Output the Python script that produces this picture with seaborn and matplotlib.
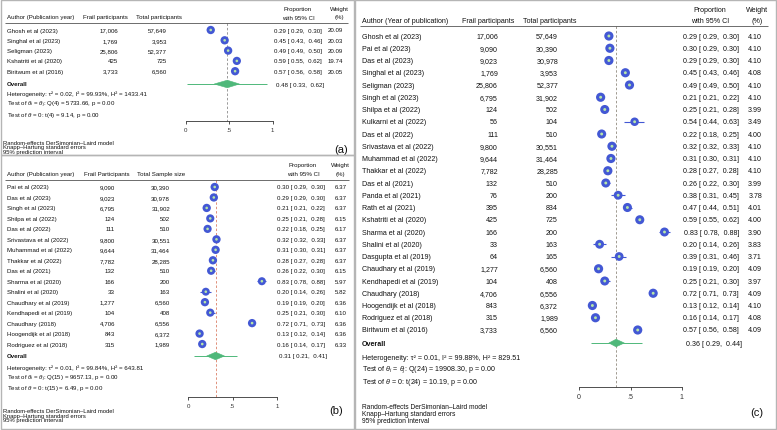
"""
Forest plots of frailty prevalence, three panels (a), (b), (c)
"""

import matplotlib
matplotlib.use("Agg")
import matplotlib.pyplot as plt
from matplotlib.patches import Polygon, Rectangle
import seaborn as sns

# Figure size in pixels
W, H = 777, 431

# ---- Panel (a) data
a_names = ['Ghosh et al (2023)', 'Singhal et al (2023)', 'Seligman (2023)',
           'Kshatriti et al (2020)', 'Biritwum et al (2016)']
a_frail = [17006, 1769, 25806, 425, 3733]
a_total = [57649, 3953, 52377, 725, 6560]
a_prop = [0.29, 0.45, 0.49, 0.59, 0.57]
a_lo = [0.29, 0.43, 0.49, 0.55, 0.56]
a_hi = [0.30, 0.46, 0.50, 0.62, 0.58]
a_weight = [20.09, 20.03, 20.09, 19.74, 20.05]
a_overall = [0.48, 0.33, 0.62]
a_pi = [0.02, 0.94]
a_stats = ['Heterogeneity: τ² = 0.02, I² = 99.93%, H² = 1433.41',
           r'Test of $\theta_i$ = $\theta_j$: Q(4) = 5733.66, p = 0.00',
           r'Test of $\theta$ = 0: t(4) = 9.14, p = 0.00']

# ---- Panel (b) data
b_names = ['Pai et al (2023)', 'Das et al (2023)', 'Singh et al (2023)',
           'Shilpa et al (2022)', 'Das et al (2022)', 'Srivastava et al (2022)',
           'Muhammad et al (2022)', 'Thakkar et al (2022)', 'Das et al (2021)',
           'Sharma et al (2020)', 'Shalini et al (2020)', 'Chaudhary et al (2019)',
           'Kendhapedi et al (2019)', 'Chaudhary (2018)', 'Hoogendijk et al (2018)',
           'Rodriguez et al (2018)']
b_frail = [9090, 9023, 6795, 124, 111, 9800, 9644, 7782, 132, 166, 33, 1277,
           104, 4706, 843, 315]
b_total = [30390, 30978, 31902, 502, 510, 30551, 31464, 28285, 510, 200, 163,
           6560, 408, 6556, 6372, 1989]
b_prop = [0.30, 0.29, 0.21, 0.25, 0.22, 0.32, 0.31, 0.28, 0.26, 0.83, 0.20,
          0.19, 0.25, 0.72, 0.13, 0.16]
b_lo = [0.29, 0.29, 0.21, 0.21, 0.18, 0.32, 0.30, 0.27, 0.22, 0.78, 0.14,
        0.19, 0.21, 0.71, 0.12, 0.14]
b_hi = [0.30, 0.30, 0.22, 0.28, 0.25, 0.33, 0.31, 0.28, 0.30, 0.88, 0.26,
        0.20, 0.30, 0.73, 0.14, 0.17]
b_weight = [6.37, 6.37, 6.37, 6.15, 6.17, 6.37, 6.37, 6.37, 6.15, 5.97, 5.82,
            6.36, 6.10, 6.36, 6.36, 6.33]
b_overall = [0.31, 0.21, 0.41]
b_pi = [0.07, 0.55]
b_stats = ['Heterogeneity: τ² = 0.01, I² = 99.84%, H² = 643.81',
           r'Test of $\theta_i$ = $\theta_j$: Q(15) = 9657.13, p = 0.00',
           r'Test of $\theta$ = 0: t(15) = 6.49, p = 0.00']

# ---- Panel (c) data
c_names = ['Ghosh et al (2023)', 'Pai et al (2023)', 'Das et al (2023)',
           'Singhal et al (2023)', 'Seligman (2023)', 'Singh et al (2023)',
           'Shilpa et al (2022)', 'Kulkarni et al (2022)', 'Das et al (2022)',
           'Srivastava et al (2022)', 'Muhammad et al (2022)', 'Thakkar et al (2022)',
           'Das et al (2021)', 'Panda et al (2021)', 'Rath et al (2021)',
           'Kshatriti et al (2020)', 'Sharma et al (2020)', 'Shalini et al (2020)',
           'Dasgupta et al (2019)', 'Chaudhary et al (2019)', 'Kendhapedi et al (2019)',
           'Chaudhary (2018)', 'Hoogendijk et al (2018)', 'Rodriguez et al (2018)',
           'Biritwum et al (2016)']
c_frail = [17006, 9090, 9023, 1769, 25806, 6795, 124, 56, 111, 9800, 9644,
           7782, 132, 76, 395, 425, 166, 33, 64, 1277, 104, 4706, 843, 315, 3733]
c_total = [57649, 30390, 30978, 3953, 52377, 31902, 502, 104, 510, 30551,
           31464, 28285, 510, 200, 834, 725, 200, 163, 165, 6560, 408, 6556,
           6372, 1989, 6560]
c_prop = [0.29, 0.30, 0.29, 0.45, 0.49, 0.21, 0.25, 0.54, 0.22, 0.32, 0.31,
          0.28, 0.26, 0.38, 0.47, 0.59, 0.83, 0.20, 0.39, 0.19, 0.25, 0.72,
          0.13, 0.16, 0.57]
c_lo = [0.29, 0.29, 0.29, 0.43, 0.49, 0.21, 0.21, 0.44, 0.18, 0.32, 0.30,
        0.27, 0.22, 0.31, 0.44, 0.55, 0.78, 0.14, 0.31, 0.19, 0.21, 0.71,
        0.12, 0.14, 0.56]
c_hi = [0.30, 0.30, 0.30, 0.46, 0.50, 0.22, 0.28, 0.63, 0.25, 0.33, 0.31,
        0.28, 0.30, 0.45, 0.51, 0.62, 0.88, 0.26, 0.46, 0.20, 0.30, 0.73,
        0.14, 0.17, 0.58]
c_weight = [4.10, 4.10, 4.10, 4.08, 4.10, 4.10, 3.99, 3.49, 4.00, 4.10, 4.10,
            4.10, 3.99, 3.78, 4.01, 4.00, 3.90, 3.83, 3.71, 4.09, 3.97, 4.09,
            4.10, 4.08, 4.09]
c_overall = [0.36, 0.29, 0.44]
c_pi = [0.12, 0.61]
c_stats = ['Heterogeneity: τ² = 0.01, I² = 99.88%, H² = 829.51',
           r'Test of $\theta_i$ = $\theta_j$: Q(24) = 19908.30, p = 0.00',
           r'Test of $\theta$ = 0: t(24) = 10.19, p = 0.00']

footnote = ('Random-effects DerSimonian–Laird model\n'
            'Knapp–Hartung standard errors\n'
            '95% prediction interval')

# Colours
BLUE = '#4358d4'
DOT = '#b6e6a8'
GREEN = '#4fb87a'
TXT = '#111111'

sns.set_theme(style="white")
plt.rcParams['font.family'] = ['Liberation Sans', 'DejaVu Sans']
plt.rcParams['mathtext.fontset'] = 'custom'
plt.rcParams['mathtext.rm'] = 'Liberation Sans'
plt.rcParams['mathtext.it'] = 'Liberation Sans:italic'

fig = plt.figure(figsize=(W / 100, H / 100), dpi=100)


def forest(names, frail, total, prop, lo, hi, weight, overall, pi, stats, lay):
    L, T, Wd, Ht = lay['box']
    x0, x1 = lay['x0'], lay['x1']
    r0, dr = lay['r0'], lay['dr']
    fs = lay['fs']
    ax = fig.add_axes([L / W, 1 - (T + Ht) / H, Wd / W, Ht / H])
    ax.set_xlim((L - x0) / (x1 - x0), (L + Wd - x0) / (x1 - x0))
    ax.set_ylim((T + Ht - r0) / dr, (T - r0) / dr)
    ax.patch.set_alpha(0)
    for s in ['top', 'right', 'left']:
        ax.spines[s].set_visible(False)

    def px(p):
        return (p - x0) / (x1 - x0)

    def py(p):
        return (p - r0) / dr

    rows = list(range(len(names)))

    # headers
    hy1, hy2 = py(lay['hdr1']), py(lay['hdr2'])
    ax.text(px(lay['author_x']), hy2, lay['author_hdr'], fontsize=fs, va='center', color=TXT)
    ax.text(px(lay['frail_hl']), hy2, lay['frail_hdr'], fontsize=fs, va='center', color=TXT)
    ax.text(px(lay['total_hl']), hy2, lay['total_hdr'], fontsize=fs, va='center', color=TXT)
    ax.text(px(lay['prop_c']), hy1, 'Proportion', fontsize=fs, va='center', ha='center', color=TXT)
    ax.text(px(lay['prop_c']), hy2, 'with 95% CI', fontsize=fs, va='center', ha='center', color=TXT)
    ax.text(px(lay['w_c']), hy1, 'Weight', fontsize=fs, va='center', ha='center', color=TXT)
    ax.text(px(lay['w_c']), hy2, '(%)', fontsize=fs, va='center', ha='center', color=TXT)
    ax.hlines(py(lay['line_y']), px(lay['line_x'][0]), px(lay['line_x'][1]),
              color='#555555', lw=0.6)

    # study rows
    for i in rows:
        ax.text(px(lay['author_x']), i, names[i], fontsize=fs, va='center', color=TXT)
        ax.text(px(lay['frail_r']), i, f'{frail[i]:,}', fontsize=fs, va='center', ha='right', color=TXT)
        ax.text(px(lay['total_r']), i, f'{total[i]:,}', fontsize=fs, va='center', ha='right', color=TXT)
        ax.text(px(lay['ci_r']), i, f'{prop[i]:.2f} [ {lo[i]:.2f},  {hi[i]:.2f}]',
                fontsize=fs, va='center', ha='right', color=TXT)
        ax.text(px(lay['w_r']), i, f'{weight[i]:.2f}', fontsize=fs, va='center', ha='right', color=TXT)

    # reference line at the pooled estimate
    ax.vlines(overall[0], py(lay['line_y']), py(lay['axis_y']), color=lay['ref_col'],
              lw=0.7, linestyles=(0, (2.5, 2)), zorder=1)

    # CIs and markers
    ax.hlines(rows, lo, hi, color=BLUE, lw=0.8, zorder=2)
    sizes = [lay['ms'] * w / max(weight) for w in weight]
    sns.scatterplot(x=prop, y=rows, s=sizes, color=BLUE, edgecolor='none',
                    legend=False, ax=ax, zorder=3)
    sns.scatterplot(x=prop, y=rows, s=lay['ms'] * 0.1, color=DOT, edgecolor='none',
                    legend=False, ax=ax, zorder=4)

    # overall diamond + prediction interval
    oy = py(lay['overall_y'])
    h = 3.8 / dr
    ax.hlines(oy, pi[0], pi[1], color=GREEN, lw=0.7, zorder=2)
    ax.add_patch(Polygon([(overall[1], oy), (overall[0], oy - h), (overall[2], oy),
                          (overall[0], oy + h)], closed=True, facecolor=GREEN,
                         edgecolor=GREEN, lw=0.4, zorder=3))
    ax.text(px(lay['author_x']), oy, 'Overall', fontsize=fs, va='center',
            fontweight='bold', color=TXT)
    ax.text(px(lay['ci_l']), oy, f'{overall[0]:.2f} [ {overall[1]:.2f},  {overall[2]:.2f}]',
            fontsize=fs, va='center', ha='left', color=TXT)
    for k, s in enumerate(stats):
        ax.text(px(lay['author_x']), py(lay['stat_y'][k]), s, fontsize=fs,
                va='center', color=TXT)

    # x axis
    ax.spines['bottom'].set_position(('data', py(lay['axis_y'])))
    ax.spines['bottom'].set_bounds(0, 1)
    ax.spines['bottom'].set_color('#333333')
    ax.spines['bottom'].set_linewidth(0.6)
    ax.set_xticks([0, 0.5, 1])
    ax.set_xticklabels(['0', '.5', '1'])
    ax.set_yticks([])
    ax.tick_params(axis='x', bottom=True, length=2.5, width=0.6, pad=1.5,
                   labelsize=fs, colors='#333333')
    ax.set_xlabel('')
    ax.set_ylabel('')

    # footnote and panel label
    ax.text(px(lay['foot_x']), py(lay['foot_y']), footnote, fontsize=lay['ffs'],
            va='top', linespacing=lay['fls'], color=TXT)
    ax.text(px(lay['lab'][0]), py(lay['lab'][1]), lay['label'], fontsize=8,
            ha='center', va='center', color=TXT)
    return ax


lay_a = dict(box=(0, 0, 353, 156), x0=185.5, x1=272.5, r0=31, dr=10.3, fs=4.4,
             author_hdr='Author (Publication year)', frail_hdr='Frail participants',
             total_hdr='Total participants', author_x=7, frail_hl=83, total_hl=136,
             frail_r=118, total_r=167, ci_r=322, ci_l=276, w_r=343, prop_c=298, w_c=339,
             hdr1=9, hdr2=18, line_y=23.5, line_x=(5, 348), overall_y=85,
             stat_y=(94, 105, 116), axis_y=122, ref_col='#9a9a9a', ms=36,
             foot_x=3, foot_y=141, ffs=4.2, fls=0.85, lab=(341, 150), label='(a)')

lay_b = dict(box=(0, 156, 353, 275), x0=188, x1=277, r0=188, dr=10.47, fs=4.4,
             author_hdr='Author (Publication year)', frail_hdr='Frail Participants',
             total_hdr='Total Sample size', author_x=7, frail_hl=84, total_hl=137,
             frail_r=115, total_r=170, ci_r=325, ci_l=279, w_r=347, prop_c=303, w_c=340,
             hdr1=166, hdr2=175, line_y=180.5, line_x=(5, 349), overall_y=357,
             stat_y=(368, 379, 389), axis_y=398, ref_col='#e0907a', ms=36,
             foot_x=3, foot_y=409, ffs=4.2, fls=0.9, lab=(336, 411), label='(b)')

lay_c = dict(box=(356, 0, 421, 431), x0=579, x1=682, r0=37, dr=12.25, fs=5.1,
             author_hdr='Author (Year of publication)', frail_hdr='Frail participants',
             total_hdr='Total participants', author_x=362, frail_hl=462, total_hl=523,
             frail_r=498, total_r=558, ci_r=739, ci_l=686, w_r=762, prop_c=710, w_c=757,
             hdr1=10, hdr2=21, line_y=27, line_x=(360, 768), overall_y=344,
             stat_y=(358, 370, 382), axis_y=388, ref_col='#a09a90', ms=44,
             foot_x=362, foot_y=404, ffs=4.8, fls=1.0, lab=(757, 413), label='(c)')

forest(a_names, a_frail, a_total, a_prop, a_lo, a_hi, a_weight, a_overall, a_pi, a_stats, lay_a)
forest(b_names, b_frail, b_total, b_prop, b_lo, b_hi, b_weight, b_overall, b_pi, b_stats, lay_b)
forest(c_names, c_frail, c_total, c_prop, c_lo, c_hi, c_weight, c_overall, c_pi, c_stats, lay_c)

# panel borders
for (L, T, Wd, Ht) in [(1, 1, 353, 155), (1, 156, 353, 274), (355, 1, 421, 429)]:
    fig.add_artist(Rectangle((L / W, 1 - (T + Ht) / H), Wd / W, Ht / H,
                             transform=fig.transFigure, fill=False,
                             edgecolor='#b5b5b5', lw=1.0))

fig.savefig('out.png', dpi=100)
